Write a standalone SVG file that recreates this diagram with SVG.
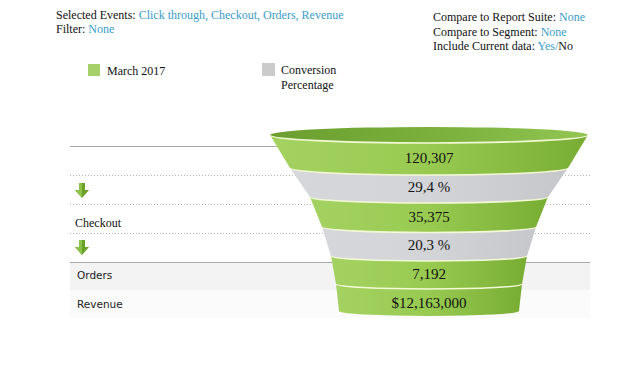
<svg xmlns="http://www.w3.org/2000/svg" width="635" height="366" viewBox="0 0 635 366">
<defs>
<style>
.serif{font-family:"Liberation Serif","Times New Roman",serif;font-size:12px;fill:#111}
.blue{fill:#3a9cc8}
.sans{font-family:"DejaVu Sans",Verdana,sans-serif;font-size:10.5px;fill:#222}
.val{font-family:"Liberation Serif","Times New Roman",serif;font-size:15px;fill:#111;text-anchor:middle}
.sep{fill:none;stroke:#f3f9d6;stroke-width:1.6}
.dot{stroke:#b5b5b5;stroke-width:1;stroke-dasharray:1 2}
.solid{stroke:#a8a8a8;stroke-width:1}
</style>
<linearGradient id="g" x1="0" x2="1" y1="0" y2="0">
<stop offset="0" stop-color="#a4d262"/>
<stop offset="0.5" stop-color="#98ca50"/>
<stop offset="1" stop-color="#78ad34"/>
</linearGradient>
<linearGradient id="gr" x1="0" x2="1" y1="0" y2="0">
<stop offset="0" stop-color="#d6d7da"/>
<stop offset="0.5" stop-color="#d3d4d8"/>
<stop offset="1" stop-color="#c6c7cb"/>
</linearGradient>
<linearGradient id="top" x1="0" x2="1" y1="0" y2="0">
<stop offset="0" stop-color="#6b9e2e"/>
<stop offset="0.6" stop-color="#7db33e"/>
<stop offset="1" stop-color="#94c553"/>
</linearGradient>
<symbol id="arrow" viewBox="0 0 14 15">
<path d="M4 0 H10 V7 H14 L7 15 L0 7 H4 Z" fill="#6aa229"/>
<path d="M4 0 H7 V15 L0 7 H4 Z" fill="#8cc24a"/>
</symbol>
</defs>
<rect width="635" height="366" fill="#fff"/>

<g id="header">
<text class="serif" x="56" y="19">Selected Events: <tspan class="blue">Click through, Checkout, Orders, Revenue</tspan></text>
<text class="serif" x="56" y="33">Filter: <tspan class="blue">None</tspan></text>
<text class="serif" x="433" y="21">Compare to Report Suite: <tspan class="blue">None</tspan></text>
<text class="serif" x="433" y="36">Compare to Segment: <tspan class="blue">None</tspan></text>
<text class="serif" x="433" y="50">Include Current data: <tspan class="blue">Yes/</tspan>No</text>
</g>

<g id="legend">
<rect x="88" y="64" width="12" height="12" fill="#a6d06a"/>
<text class="serif" x="107" y="75">March 2017</text>
<rect x="262" y="63" width="13" height="13" fill="#cbcbcb"/>
<text class="serif" x="281" y="74">Conversion</text>
<text class="serif" x="281" y="89">Percentage</text>
</g>

<g id="table">
<rect x="70" y="263" width="520" height="27" fill="#f3f3f3"/>
<rect x="70" y="290" width="520" height="28" fill="#fbfbfb"/>
<line class="solid" x1="70" y1="146.5" x2="280" y2="146.5"/>
<line class="dot" x1="70" y1="175.5" x2="590" y2="175.5"/>
<line class="dot" x1="70" y1="204.5" x2="590" y2="204.5"/>
<line class="dot" x1="70" y1="233.5" x2="590" y2="233.5"/>
<line class="solid" x1="70" y1="262.5" x2="590" y2="262.5"/>
<text class="serif" x="75" y="227">Checkout</text>
<text class="sans" x="77" y="279">Orders</text>
<text class="sans" x="77" y="308">Revenue</text>
</g>

<g id="connectors">
<use href="#arrow" x="75" y="183" width="14" height="15"/>
<use href="#arrow" x="75" y="240" width="14" height="15"/>
</g>

<g id="funnel">
<g id="band1">
<path d="M270 135 A159 8 0 0 0 588 135 L568 168 A139 7 0 0 1 290 168 Z" fill="url(#g)"/>
<text class="val" x="429" y="163">120,307</text>
</g>
<g id="band2">
<path d="M290 168 A139 7 0 0 0 568 168 L548 197 A119 6 0 0 1 310 197 Z" fill="url(#gr)"/>
<text class="val" x="429" y="192">29,4 %</text>
</g>
<g id="band3">
<path d="M310 197 A119 6 0 0 0 548 197 L536 227 A107 5.5 0 0 1 322 227 Z" fill="url(#g)"/>
<text class="val" x="429" y="222">35,375</text>
</g>
<g id="band4">
<path d="M322 227 A107 5.5 0 0 0 536 227 L527 256 A98 5 0 0 1 331 256 Z" fill="url(#gr)"/>
<text class="val" x="429" y="250">20,3 %</text>
</g>
<g id="band5">
<path d="M331 256 A98 5 0 0 0 527 256 L522 284 A93 5 0 0 1 336 284 Z" fill="url(#g)"/>
<text class="val" x="429" y="279">7,192</text>
</g>
<g id="band6">
<path d="M336 284 A93 5 0 0 0 522 284 L519 311 A90 5 0 0 1 339 311 Z" fill="url(#g)"/>
<text class="val" x="429" y="308">$12,163,000</text>
</g>
<g id="top">
<ellipse cx="429" cy="135" rx="159" ry="8" fill="url(#top)"/>
<path class="sep" d="M270 135 A159 8 0 0 0 588 135"/>
<path class="sep" d="M290 168 A139 7 0 0 0 568 168"/>
<path class="sep" d="M310 197 A119 6 0 0 0 548 197"/>
<path class="sep" d="M322 227 A107 5.5 0 0 0 536 227"/>
<path class="sep" d="M331 256 A98 5 0 0 0 527 256"/>
<path class="sep" d="M336 284 A93 5 0 0 0 522 284"/>
</g>
</g>
</svg>
